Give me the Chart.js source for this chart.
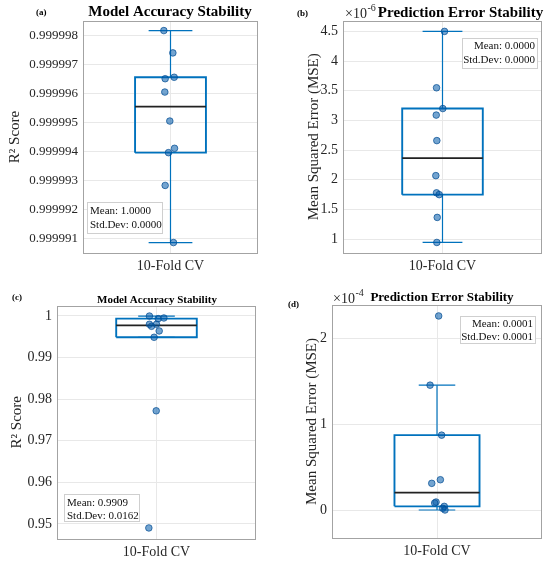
<!DOCTYPE html>
<html lang="en">
  <head>
    <meta charset="UTF-8" />
    <title>10-Fold CV stability</title>
    <script src="https://cdn.jsdelivr.net/npm/chart.js@4.4.1/dist/chart.umd.min.js"></script>
    <style>
      body { margin: 0; background: #fff; }
      .panel { position: absolute; }
    </style>
  </head>
  <body>
    <div class="panel" style="left:0;top:0"><canvas id="chartA" width="275" height="280"></canvas></div>
    <div class="panel" style="left:275px;top:0"><canvas id="chartB" width="275" height="280"></canvas></div>
    <div class="panel" style="left:0;top:280px"><canvas id="chartC" width="275" height="283"></canvas></div>
    <div class="panel" style="left:275px;top:280px"><canvas id="chartD" width="275" height="283"></canvas></div>

    <script>
      const category = ["10-Fold CV"];

      // fold scores
      const r2FoldsA = [0.99999817, 0.9999974, 0.99999656, 0.99999651, 0.99999605, 0.99999505, 0.99999411, 0.99999396, 0.99999283, 0.99999086];
      const mseFoldsB = [4.5e-6, 3.55e-6, 3.2e-6, 3.09e-6, 2.66e-6, 2.07e-6, 1.78e-6, 1.75e-6, 1.366e-6, 0.944e-6];
      const r2FoldsC = [0.99998, 0.99936, 0.99952, 0.998, 0.99752, 0.998, 0.9964, 0.99488, 0.9772, 0.94904];
      const mseFoldsD = [2.259e-4, 1.456e-4, 0.876e-4, 0.359e-4, 0.317e-4, 0.1e-4, 0.089e-4, 0.05e-4, 0.027e-4, 0.008e-4];

      // horizontal jitter of each dot (same order as the scores)
      const jitterA = [-0.076, 0.027, 0.042, -0.061, -0.065, -0.008, 0.046, -0.023, -0.061, 0.034];
      const jitterB = [0.02, -0.06, 0.003, -0.063, -0.057, -0.067, -0.06, -0.033, -0.053, -0.057];
      const jitterC = [-0.071, 0.017, 0.074, -0.071, -0.05, 0, 0.027, -0.024, -0.003, -0.077];
      const jitterD = [0.016, -0.066, 0.044, 0.032, -0.05, -0.009, -0.022, 0.069, 0.054, 0.076];

      // y tick values
      const yTicksA = [0.999991, 0.999992, 0.999993, 0.999994, 0.999995, 0.999996, 0.999997, 0.999998];
      const yTicksB = [1e-6, 1.5e-6, 2e-6, 2.5e-6, 3e-6, 3.5e-6, 4e-6, 4.5e-6];
      const yTicksC = [0.95, 0.96, 0.97, 0.98, 0.99, 1];
      const yTicksD = [0, 1e-4, 2e-4];

      // text of the stats boxes
      const statsA = ["Mean: 1.0000", "Std.Dev: 0.0000"];
      const statsB = ["Mean: 0.0000", "Std.Dev: 0.0000"];
      const statsC = ["Mean: 0.9909", "Std.Dev: 0.0162"];
      const statsD = ["Mean: 0.0001", "Std.Dev: 0.0001"];

      const blue = "#0072BD";
      const serif = "'Liberation Serif', 'Times New Roman', serif";
      const ink = "#262626";

      // quantile the way matlab does it (n*p + 0.5, linear in between)
      function quantile(sorted, p) {
        const n = sorted.length;
        const pos = n * p + 0.5;
        if (pos <= 1) return sorted[0];
        if (pos >= n) return sorted[n - 1];
        const lo = Math.floor(pos);
        const f = pos - lo;
        return sorted[lo - 1] + f * (sorted[lo] - sorted[lo - 1]);
      }

      function boxStats(values) {
        const s = [...values].sort((a, b) => a - b);
        const q1 = quantile(s, 0.25);
        const med = quantile(s, 0.5);
        const q3 = quantile(s, 0.75);
        const iqr = q3 - q1;
        const lo = Math.min(...s.filter((v) => v >= q1 - 1.5 * iqr));
        const hi = Math.max(...s.filter((v) => v <= q3 + 1.5 * iqr));
        return { q1, med, q3, lo, hi };
      }

      const segment = (pts, color, width) => ({
        data: pts,
        showLine: true,
        fill: false,
        borderColor: color,
        borderWidth: width,
        pointRadius: 0,
      });

      // titles, panel letters, x10^n and the stats box
      const decor = {
        id: "decor",
        beforeDatasetsDraw(chart, args, o) {
          const { ctx, chartArea: ca } = chart;
          ctx.save();
          ctx.strokeStyle = "#a3a3a3";
          ctx.lineWidth = 1;
          ctx.strokeRect(Math.round(ca.left) + 0.5, Math.round(ca.top) + 0.5,
            Math.round(ca.right - ca.left) - 1, Math.round(ca.bottom - ca.top));
          ctx.restore();
        },
        afterDraw(chart, args, o) {
          const ctx = chart.ctx;
          ctx.save();
          ctx.fillStyle = "#000";
          ctx.textBaseline = "middle";
          ctx.textAlign = "center";
          ctx.font = `bold ${o.titleSize}px ${serif}`;
          ctx.fillText(o.title, o.titleX, o.titleY);

          ctx.textAlign = "left";
          ctx.font = `bold 9px ${serif}`;
          ctx.fillText(o.letter, o.letterX, o.letterY);

          if (o.exponent) {
            ctx.fillStyle = ink;
            ctx.font = `14px ${serif}`;
            ctx.fillText("\u00d710", o.expX, o.expY);
            const w = ctx.measureText("\u00d710").width;
            ctx.font = `10px ${serif}`;
            ctx.fillText(o.exponent, o.expX + w + 0.5, o.expY - 6);
          }

          const b = o.box;
          ctx.fillStyle = "#fff";
          ctx.fillRect(b.x, b.y, b.w, b.h);
          ctx.strokeStyle = "#cfcfcf";
          ctx.lineWidth = 1;
          ctx.strokeRect(b.x + 0.5, b.y + 0.5, b.w, b.h);
          ctx.fillStyle = "#111";
          ctx.font = `${b.size}px ${serif}`;
          ctx.textAlign = b.align;
          const tx = b.align === "left" ? b.x + 3 : b.x + b.w - 2;
          o.lines.forEach((line, i) => {
            ctx.fillText(line, tx, b.y + b.first + i * b.step);
          });
          ctx.restore();
        },
      };

      function makePanel(id, values, jitter, yTicks, fmt, p) {
        const s = boxStats(values);
        const bw = 0.405;
        const cw = p.cap;
        const canvas = document.getElementById(id);
        const W = canvas.width;
        const H = canvas.height;

        return new Chart(canvas, {
          type: "scatter",
          data: {
            datasets: [
              {
                data: values.map((v, i) => ({ x: jitter[i], y: v })),
                pointRadius: 3.3,
                pointBackgroundColor: "rgba(0,90,170,0.55)",
                pointBorderColor: "rgba(0,75,145,0.7)",
                pointBorderWidth: 1,
              },
              segment([{ x: -bw, y: s.med }, { x: bw, y: s.med }], "#222", 1.7),
              segment([
                { x: -bw, y: s.q1 }, { x: bw, y: s.q1 }, { x: bw, y: s.q3 },
                { x: -bw, y: s.q3 }, { x: -bw, y: s.q1 },
              ], blue, 1.9),
              segment([{ x: 0, y: s.q3 }, { x: 0, y: s.hi }], blue, 1.2),
              segment([{ x: 0, y: s.q1 }, { x: 0, y: s.lo }], blue, 1.2),
              segment([{ x: -cw, y: s.hi }, { x: cw, y: s.hi }], blue, 1.2),
              segment([{ x: -cw, y: s.lo }, { x: cw, y: s.lo }], blue, 1.2),
            ],
          },
          options: {
            responsive: false,
            animation: false,
            layout: { padding: { left: 0, top: p.top, right: W - p.right, bottom: 0 } },
            plugins: {
              legend: { display: false },
              tooltip: { enabled: false },
              decor: p.decor,
            },
            scales: {
              x: {
                type: "linear",
                min: -1,
                max: 1,
                afterBuildTicks: (sc) => { sc.ticks = [{ value: 0 }]; },
                afterFit: (sc) => {
                  sc.height = H - p.bottom;
                  sc.paddingLeft = 0; sc.paddingRight = 0;
                },
                ticks: {
                  callback: () => category[0],
                  color: ink,
                  padding: 5,
                  maxRotation: 0,
                  font: { family: serif, size: 14 },
                },
                grid: { color: "#e8e8e8", drawTicks: false },
                border: { display: false },
              },
              y: {
                min: p.yMin,
                max: p.yMax,
                afterBuildTicks: (sc) => { sc.ticks = yTicks.map((v) => ({ value: v })); },
                afterFit: (sc) => {
                  sc.width = p.left;
                  sc.paddingTop = 0; sc.paddingBottom = 0;
                },
                ticks: {
                  callback: fmt,
                  autoSkip: false,
                  color: ink,
                  padding: 5,
                  font: { family: serif, size: p.tickSize },
                },
                grid: { color: "#e8e8e8", drawTicks: false },
                border: { display: false },
                title: {
                  display: true,
                  text: p.yTitle,
                  color: ink,
                  padding: { top: p.titlePad, bottom: 0 },
                  font: { family: serif, size: 15 },
                },
              },
            },
          },
          plugins: [decor],
        });
      }

      makePanel("chartA", r2FoldsA, jitterA, yTicksA, (v) => v.toFixed(6), {
        left: 83, right: 258, top: 21, bottom: 253,
        yMin: 0.9999905, yMax: 0.9999985, cap: 0.25, tickSize: 13,
        yTitle: "R\u00b2 Score", titlePad: 6,
        decor: {
          title: "Model Accuracy Stability", titleSize: 15, titleX: 170, titleY: 12.5,
          letter: "(a)", letterX: 36, letterY: 13,
          lines: statsA,
          box: { x: 87, y: 202, w: 75, h: 31, size: 11, align: "left", first: 9, step: 14 },
        },
      });

      makePanel("chartB", mseFoldsB, jitterB, yTicksB, (v) => String(+(v * 1e6).toFixed(1)), {
        left: 68, right: 267, top: 21, bottom: 252.5,
        yMin: 0.775e-6, yMax: 4.675e-6, cap: 0.2, tickSize: 14,
        yTitle: "Mean Squared Error (MSE)", titlePad: 30,
        decor: {
          title: "Prediction Error Stability", titleSize: 15, titleX: 185.5, titleY: 13,
          letter: "(b)", letterX: 22, letterY: 14,
          exponent: "-6", expX: 70, expY: 14,
          lines: statsB,
          box: { x: 187, y: 38, w: 75, h: 30, size: 11, align: "right", first: 8, step: 14 },
        },
      });

      makePanel("chartC", r2FoldsC, jitterC, yTicksC, (v) => String(+v.toFixed(2)), {
        left: 57, right: 256, top: 26, bottom: 258.5,
        yMin: 0.9465, yMax: 1.0024, cap: 0.184, tickSize: 14,
        yTitle: "R\u00b2 Score", titlePad: 8,
        decor: {
          title: "Model Accuracy Stability", titleSize: 11, titleX: 157, titleY: 20,
          letter: "(c)", letterX: 12, letterY: 18,
          lines: statsC,
          box: { x: 64, y: 214, w: 75, h: 27, size: 11, align: "left", first: 9, step: 13 },
        },
      });

      makePanel("chartD", mseFoldsD, jitterD, yTicksD, (v) => String(+(v * 1e4).toFixed(1)), {
        left: 57, right: 267, top: 25, bottom: 258,
        yMin: -0.317e-4, yMax: 2.386e-4, cap: 0.174, tickSize: 14,
        yTitle: "Mean Squared Error (MSE)", titlePad: 28,
        decor: {
          title: "Prediction Error Stability", titleSize: 13, titleX: 167, titleY: 18,
          letter: "(d)", letterX: 13, letterY: 25,
          exponent: "-4", expX: 58, expY: 19,
          lines: statsD,
          box: { x: 185, y: 36, w: 75, h: 27, size: 11, align: "right", first: 8, step: 13 },
        },
      });
    </script>
  </body>
</html>
